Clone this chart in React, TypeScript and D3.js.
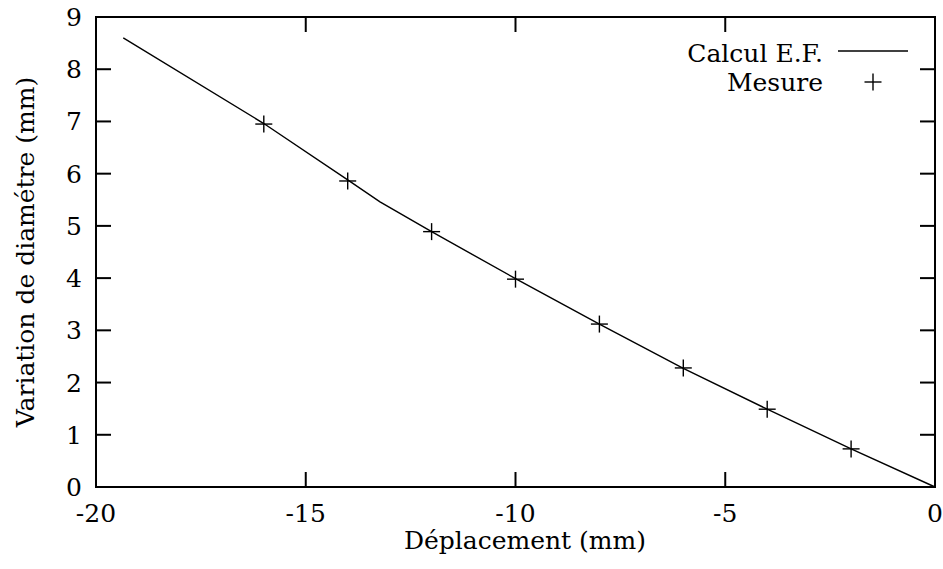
import React from "react";
import * as d3 from "d3";

const efX = [-19.35, -16, -14, -13.23, -12, -10, -8, -6, -4, -2, 0];
const efY = [8.6, 6.96, 5.88, 5.46, 4.89, 3.99, 3.12, 2.27, 1.49, 0.73, 0];

const mesX = [-16, -14, -12, -10, -8, -6, -4, -2];
const mesY = [6.95, 5.86, 4.89, 3.98, 3.12, 2.28, 1.49, 0.73];

const xTicks = [-20, -15, -10, -5, 0];
const yTicks = [0, 1, 2, 3, 4, 5, 6, 7, 8, 9];

const xLabel = "Déplacement (mm)";
const yLabel = "Variation de diamétre (mm)";
const legendLine = "Calcul E.F.";
const legendPts = "Mesure";

export default function App() {
  const W = 943, H = 569;
  const left = 96, right = 935, top = 17, bottom = 487;
  const x = d3.scaleLinear().domain([-20, 0]).range([left, right]);
  const y = d3.scaleLinear().domain([0, 9]).range([bottom, top]);
  const fs = 25;
  const tickLen = 15;

  const lineGen = d3
    .line<number>()
    .x((_, i) => x(efX[i]))
    .y((_, i) => y(efY[i]));
  const path = lineGen(efX) || "";

  const plus = (cx: number, cy: number, key: string | number) => (
    <g key={key} stroke="#000" strokeWidth={1.4}>
      <line x1={cx - 8.5} x2={cx + 8.5} y1={cy} y2={cy} />
      <line x1={cx} x2={cx} y1={cy - 8.5} y2={cy + 8.5} />
    </g>
  );

  return (
    <svg
      width={W}
      height={H}
      style={{
        position: "absolute",
        left: 0,
        top: 0,
        display: "block",
        background: "#fff",
        fontFamily: "DejaVu Serif",
        fontSize: fs,
      }}
    >
      <g stroke="#000" strokeWidth={2}>
        {xTicks.map((t) => (
          <g key={"xt" + t}>
            <line x1={x(t)} x2={x(t)} y1={bottom} y2={bottom - tickLen} />
            <line x1={x(t)} x2={x(t)} y1={top} y2={top + tickLen} />
          </g>
        ))}
        {yTicks.map((t) => (
          <g key={"yt" + t}>
            <line x1={left} x2={left + tickLen} y1={y(t)} y2={y(t)} />
            <line x1={right} x2={right - tickLen} y1={y(t)} y2={y(t)} />
          </g>
        ))}
      </g>
      {xTicks.map((t) => (
        <text key={"xl" + t} x={x(t)} y={bottom + 35} textAnchor="middle" fill="#000">
          {String(t)}
        </text>
      ))}
      {yTicks.map((t) => (
        <text key={"yl" + t} x={left - 14} y={y(t) + 9} textAnchor="end" fill="#000">
          {String(t)}
        </text>
      ))}
      <path d={path} fill="none" stroke="#000" strokeWidth={1.4} />
      {mesX.map((v, i) => plus(x(v), y(mesY[i]), "m" + i))}
      <rect x={left} y={top} width={right - left} height={bottom - top} fill="none" stroke="#000" strokeWidth={2} />
      <text x={823} y={62} textAnchor="end" fill="#000">{legendLine}</text>
      <text x={823} y={91} textAnchor="end" fill="#000">{legendPts}</text>
      <line x1={838} x2={908} y1={51} y2={51} stroke="#000" strokeWidth={1.4} />
      {plus(873, 82, "leg")}
      <text x={525} y={549} textAnchor="middle" fill="#000">{xLabel}</text>
      <text
        transform={`translate(34, ${(top + bottom) / 2}) rotate(-90)`}
        textAnchor="middle"
        fill="#000"
      >
        {yLabel}
      </text>
    </svg>
  );
}
